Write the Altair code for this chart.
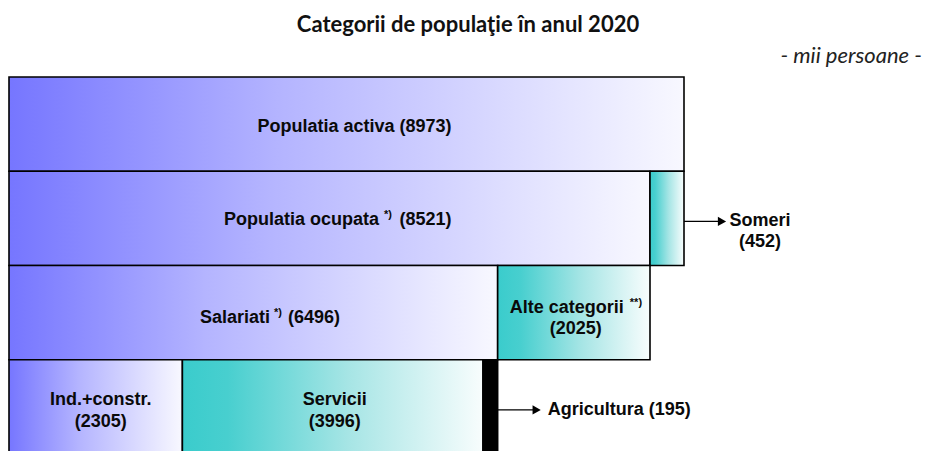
import altair as alt
import pandas as pd

# ---- data ----
categories = ["Populatia activa", "Populatia ocupata", "Someri", "Salariati",
              "Alte categorii", "Ind.+constr.", "Servicii", "Agricultura"]
values = [8973, 8521, 452, 6496, 2025, 2305, 3996, 195]
rows = [0, 1, 1, 2, 2, 3, 3, 3]
styles = ["blue", "blue", "teal", "blue", "teal", "blue", "teal", "black"]
notes = {"Populatia ocupata": "*)", "Salariati": "*)", "Alte categorii": "**)"}
title_text = "Categorii de populaţie în anul 2020"
unit_text = "- mii persoane -"

starts, acc = [], {}
for r, v in zip(rows, values):
    s = acc.get(r, 0)
    starts.append(s)
    acc[r] = s + v
df = pd.DataFrame(dict(cat=categories, value=values, row=rows, style=styles, start=starts))
df["end"] = df["start"] + df["value"]
df["row2"] = df["row"] + 1
df["mid"] = (df["start"] + df["end"]) / 2
df["ymid"] = df["row"] + 0.5

FONT = "Arial, Liberation Sans, Helvetica, sans-serif"
FS = 18
SUP = 11
xs = alt.Scale(domain=[0, 8973], range=[0, 675], nice=False, zero=False)
ys = alt.Scale(domain=[0, 4], range=[0, 377], nice=False, zero=False)

blue_grad = alt.Gradient(gradient="linear", x1=0, x2=1, y1=0, y2=0, stops=[
    alt.GradientStop(color="#7676ff", offset=0),
    alt.GradientStop(color="#b4b4ff", offset=0.4),
    alt.GradientStop(color="#f8f8ff", offset=1)])
teal_grad = alt.Gradient(gradient="linear", x1=0, x2=1, y1=0, y2=0, stops=[
    alt.GradientStop(color="#3acccc", offset=0),
    alt.GradientStop(color="#48cfcf", offset=0.15),
    alt.GradientStop(color="#a6e5e5", offset=0.55),
    alt.GradientStop(color="#f8fdfd", offset=1)])


def bars(style, fill):
    return alt.Chart(df[df["style"] == style]).mark_rect(
        fill=fill, stroke="black", strokeWidth=1.6
    ).encode(
        x=alt.X("start:Q", scale=xs, axis=None), x2="end:Q",
        y=alt.Y("row:Q", scale=ys, axis=None), y2="row2:Q")


def label(cat, text, xfield="mid", dx=0, dy=0, align="center", size=FS):
    sub = df[df["cat"] == cat].assign(label=text)
    return alt.Chart(sub).mark_text(
        font=FONT, fontWeight="bold", fontSize=size, align=align,
        baseline="middle", dx=dx, dy=dy, color="#0a0a0a"
    ).encode(x=alt.X(f"{xfield}:Q", scale=xs, axis=None),
             y=alt.Y("ymid:Q", scale=ys, axis=None),
             text="label:N")


def val(cat):
    return f"({values[categories.index(cat)]})"


def arrow(cat, length, yoff):
    sub = df[df["cat"] == cat]
    line = alt.Chart(sub).mark_rule(
        color="black", strokeWidth=1.3, x2Offset=length - 5, yOffset=yoff, y2Offset=yoff
    ).encode(x=alt.X("end:Q", scale=xs, axis=None), x2="end:Q",
             y=alt.Y("ymid:Q", scale=ys, axis=None))
    head = alt.Chart(sub).mark_point(
        shape="triangle-right", filled=True, color="black", size=90,
        opacity=1, xOffset=length - 4, yOffset=yoff
    ).encode(x=alt.X("end:Q", scale=xs, axis=None),
             y=alt.Y("ymid:Q", scale=ys, axis=None))
    return [line, head]


layers = [bars("blue", blue_grad), bars("teal", teal_grad), bars("black", "black")]

# Row 1
layers.append(label("Populatia activa", f"Populatia activa {val('Populatia activa')}", dx=8, dy=3))
# Row 2
layers.append(label("Populatia ocupata", "Populatia ocupata", dx=49.5, dy=2, align="right"))
layers.append(label("Populatia ocupata", notes["Populatia ocupata"], dx=54.5, dy=-3, align="left", size=SUP))
layers.append(label("Populatia ocupata", val("Populatia ocupata"), dx=70, dy=2, align="left"))
# Row 3
layers.append(label("Salariati", "Salariati", dx=16.7, dy=5.5, align="right"))
layers.append(label("Salariati", notes["Salariati"], dx=20.7, dy=0.5, align="left", size=SUP))
layers.append(label("Salariati", val("Salariati"), dx=34.7, dy=5.5, align="left"))
layers.append(label("Alte categorii", "Alte categorii", dx=50, dy=-4.5, align="right"))
layers.append(label("Alte categorii", notes["Alte categorii"], dx=56, dy=-9.5, align="left", size=SUP))
layers.append(label("Alte categorii", val("Alte categorii"), dx=2, dy=16.5))
# Row 4
layers.append(label("Ind.+constr.", "Ind.+constr.", dx=5, dy=-7))
layers.append(label("Ind.+constr.", val("Ind.+constr."), dx=5, dy=15))
layers.append(label("Servicii", "Servicii", dx=2, dy=-7))
layers.append(label("Servicii", val("Servicii"), dx=2, dy=15))
# Arrows / outside labels
layers += arrow("Someri", 42, 3)
layers.append(label("Someri", "Someri", xfield="end", dx=76, dy=3))
layers.append(label("Someri", val("Someri"), xfield="end", dx=76, dy=24))
layers += arrow("Agricultura", 43, 3)
layers.append(label("Agricultura", f"Agricultura {val('Agricultura')}", xfield="end", dx=50, dy=3, align="left"))

# Title and unit
tdf = pd.DataFrame({"t": [title_text]})
layers.append(alt.Chart(tdf).mark_text(
    font="Lato", fontWeight="bold", fontSize=22, align="center", baseline="middle", color="#111111"
).encode(x=alt.value(459), y=alt.value(-52), text="t:N"))
udf = pd.DataFrame({"t": [unit_text]})
layers.append(alt.Chart(udf).mark_text(
    font="Lato", fontStyle="italic", fontSize=22, align="right", baseline="middle", color="#222222"
).encode(x=alt.value(913), y=alt.value(-21), text="t:N"))

chart = alt.layer(*layers).properties(
    width=917, height=374,
    autosize=alt.AutoSizeParams(type="none"),
    padding={"left": 9, "top": 77, "right": 0, "bottom": 0},
    background="white",
).configure_view(stroke=None)

chart.save("out.html", embed_options={"renderer": "svg", "actions": False})
